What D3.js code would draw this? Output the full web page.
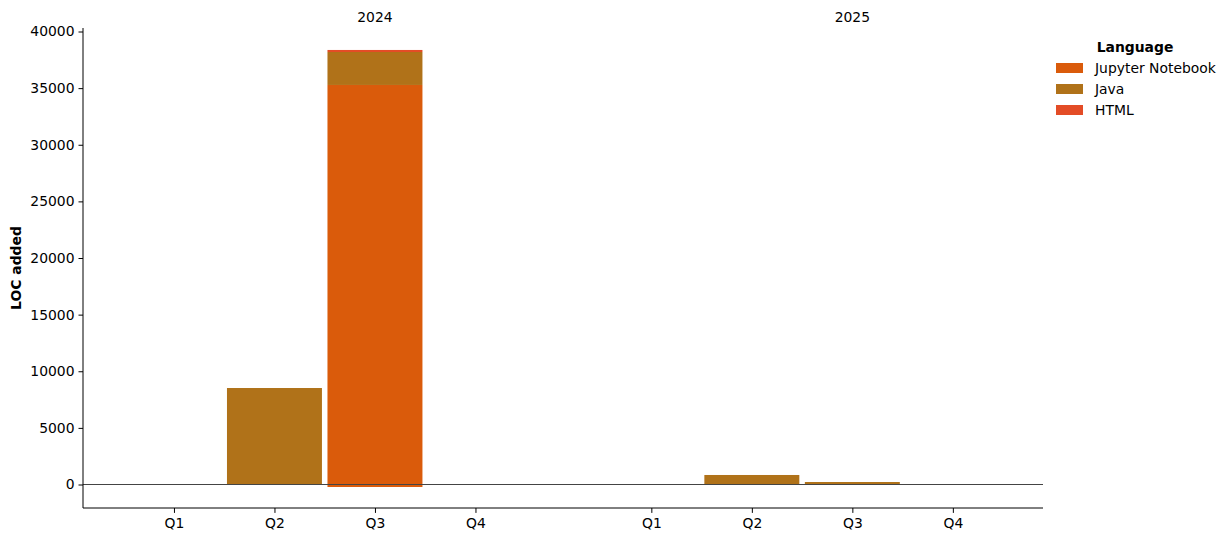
<!DOCTYPE html>
<html>
<head>
<meta charset="utf-8">
<script src="https://cdn.jsdelivr.net/npm/d3@7"></script>
<style>
  body { margin: 0; background: #fff; }
  text { font-family: "DejaVu Sans", sans-serif; fill: #000; }
</style>
</head>
<body>
<script>
// data
var years = ["2024", "2025"];
var quarters = ["Q1", "Q2", "Q3", "Q4"];
var languages = ["Jupyter Notebook", "Java", "HTML"];
var colors = ["#da5b0b", "#b07219", "#e34c26"];

// LOC added per quarter, 2024 Q1..Q4 then 2025 Q1..Q4
var jupyter = [0, 0, 35280, 0, 0, 0, 0, 0];
var java = [0, 8520, 2910, 0, 0, 840, 220, 0];
var html = [0, 0, 180, 0, 0, 0, 0, 0];
// small negative part of the Jupyter bar in 2024 Q3
var jupyterNeg = [0, 0, -220, 0, 0, 0, 0, 0];

var yTicks = [0, 5000, 10000, 15000, 20000, 25000, 30000, 35000, 40000];

// graph dimensions
var dim = {
  w: 1230,
  h: 542,
  left: 83,
  right: 1043,
  top: 28,
  bottom: 508
};

var fontSize = "13.9px";
var yearGap = 4.75; // distance (in slots) between Q1 2024 and Q1 2025
var barW = 0.945;

var svg = d3.select("body")
  .append("svg")
  .attr("width", dim.w)
  .attr("height", dim.h);

// build rows for the stack
var rows = [];
for (var i = 0; i < years.length * quarters.length; i++) {
  var yi = Math.floor(i / quarters.length);
  var qi = i % quarters.length;
  rows.push({
    pos: yi * yearGap + qi,
    year: years[yi],
    quarter: quarters[qi],
    "Jupyter Notebook": jupyter[i],
    "Java": java[i],
    "HTML": html[i],
    "neg": jupyterNeg[i]
  });
}

var xScale = d3.scaleLinear()
  .domain([-0.905, 8.647])
  .range([dim.left, dim.right]);

var yScale = d3.scaleLinear()
  .domain([-2075, 40310])
  .range([dim.bottom, dim.top]);

var stack = d3.stack()
  .keys(languages.concat(["neg"]))
  .offset(d3.stackOffsetDiverging);
var series = stack(rows);

var colorOf = function(key) {
  if (key === "neg") return colors[0];
  return colors[languages.indexOf(key)];
};

// bars
svg.append("g")
  .selectAll("g")
  .data(series)
  .enter()
  .append("g")
  .attr("fill", function(d) { return colorOf(d.key); })
  .selectAll("rect")
  .data(function(d) { return d; })
  .enter()
  .append("rect")
  .attr("x", function(d) { return xScale(d.data.pos - barW / 2); })
  .attr("width", function(d) { return xScale(barW) - xScale(0); })
  .attr("y", function(d) { return yScale(Math.max(d[0], d[1])); })
  .attr("height", function(d) { return Math.abs(yScale(d[0]) - yScale(d[1])); });

// zero line
svg.append("line")
  .attr("x1", dim.left)
  .attr("x2", dim.right)
  .attr("y1", yScale(0))
  .attr("y2", yScale(0))
  .attr("stroke", "#444")
  .attr("stroke-width", 1);

// y axis
var yAxis = d3.axisLeft(yScale)
  .tickValues(yTicks)
  .tickSize(4.5)
  .tickPadding(4)
  .tickFormat(d3.format("d"));

var gy = svg.append("g")
  .attr("transform", "translate(" + dim.left + ",0)")
  .call(yAxis);
gy.select(".domain").attr("d", "M0," + dim.top + "V" + dim.bottom).attr("stroke", "#000");
gy.selectAll("text").style("font-size", fontSize).style("font-family", "DejaVu Sans");

// x axis
var xAxis = d3.axisBottom(xScale)
  .tickValues(rows.map(function(d) { return d.pos; }))
  .tickSize(4.9)
  .tickPadding(5.5)
  .tickFormat(function(d, i) { return rows[i].quarter; });

var gx = svg.append("g")
  .attr("transform", "translate(0," + dim.bottom + ")")
  .call(xAxis);
gx.select(".domain").attr("d", "M" + dim.left + ",0H" + dim.right).attr("stroke", "#000");
gx.selectAll("text").style("font-size", fontSize).style("font-family", "DejaVu Sans");

// year labels
svg.selectAll(".year")
  .data(years)
  .enter()
  .append("text")
  .attr("class", "year")
  .attr("x", function(d, i) { return xScale(i * yearGap + 2); })
  .attr("y", 22)
  .attr("text-anchor", "middle")
  .style("font-size", fontSize)
  .text(function(d) { return d; });

// y label
svg.append("text")
  .attr("transform", "translate(21," + ((dim.top + dim.bottom) / 2) + ") rotate(-90)")
  .attr("text-anchor", "middle")
  .style("font-size", fontSize)
  .style("font-weight", "bold")
  .text("LOC added");

// legend
var legend = svg.append("g")
  .attr("transform", "translate(1056, 0)");

legend.append("text")
  .attr("x", 79)
  .attr("y", 52)
  .attr("text-anchor", "middle")
  .style("font-size", fontSize)
  .style("font-weight", "bold")
  .text("Language");

var items = legend.selectAll(".item")
  .data(languages)
  .enter()
  .append("g")
  .attr("class", "item")
  .attr("transform", function(d, i) { return "translate(0," + (63 + i * 21) + ")"; });

items.append("rect")
  .attr("width", 27)
  .attr("height", 10)
  .attr("fill", function(d, i) { return colors[i]; });

items.append("text")
  .attr("x", 39)
  .attr("y", 10)
  .style("font-size", fontSize)
  .text(function(d) { return d; });
</script>
</body>
</html>
